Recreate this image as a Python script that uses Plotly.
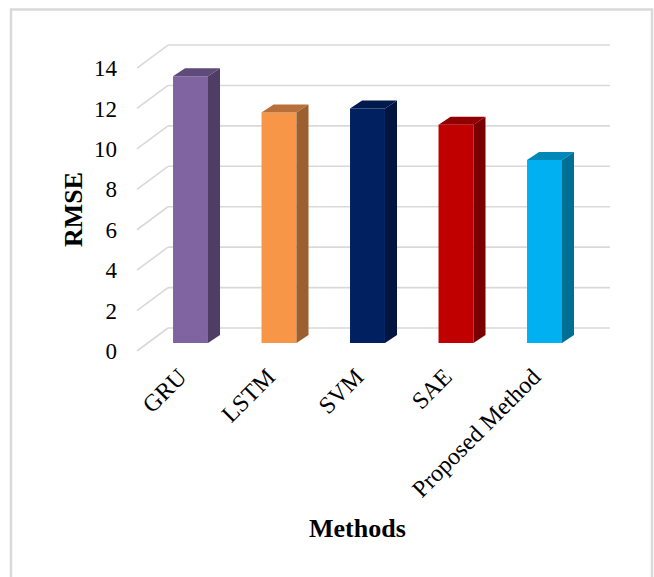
import plotly.graph_objects as go

# Data
methods = ["GRU", "LSTM", "SVM", "SAE", "Proposed Method"]
rmse = [13.2, 11.4, 11.6, 10.8, 9.05]
y_ticks = [0, 2, 4, 6, 8, 10, 12, 14]

front_colors = ["#8064A2", "#F79646", "#002060", "#C00000", "#00B0F0"]
top_colors = ["#5F4B7A", "#B8703A", "#001A4D", "#900000", "#0088B8"]
side_colors = ["#4F3D66", "#9C5F2F", "#00153F", "#7A0000", "#006F96"]

# Oblique 3-D projection parameters (in axis units)
BAR_W = 0.395          # width of bar front face (category units)
DEPTH_X = 0.136        # horizontal shift of bar depth
DEPTH_Y = 0.396        # vertical shift of bar depth
FLOOR_FRONT_X, FLOOR_FRONT_DY = -0.605, -0.396   # front edge of side wall
WALL_X, WALL_DY = -0.254, 0.742                  # back wall left edge / lift
WALL_RIGHT = 4.74

# Plot-area geometry in pixels
W, H = 654, 577
ML, MR, MT, MB = 120, 44, 30, 217
PX_PER_CAT = 88.5
PX_PER_UNIT = 20.21
x0_px = 190.5          # pixel centre of first category
y0_px = 343            # pixel of value 0 on bar front plane

x_range = [(ML - x0_px) / PX_PER_CAT, (W - MR - x0_px) / PX_PER_CAT]
y_range = [(y0_px - (H - MB)) / PX_PER_UNIT, (y0_px - MT) / PX_PER_UNIT]

xs = list(range(len(methods)))
fig = go.Figure()

# Back-wall and side-wall gridlines
grid = dict(color="#D9D9D9", width=1.6)
shapes = []
for v in y_ticks:
    shapes.append(dict(type="line", xref="x", yref="y", layer="below",
                       x0=FLOOR_FRONT_X, y0=v + FLOOR_FRONT_DY,
                       x1=WALL_X, y1=v + WALL_DY, line=grid))
    shapes.append(dict(type="line", xref="x", yref="y", layer="below",
                       x0=WALL_X, y0=v + WALL_DY,
                       x1=WALL_RIGHT, y1=v + WALL_DY, line=grid))

# Chart border
def px2paper_x(px):
    return (px - ML) / (W - ML - MR)

def px2paper_y(py):
    return ((H - MB) - py) / (H - MT - MB)

shapes.append(dict(type="rect", xref="paper", yref="paper", layer="below",
                   x0=px2paper_x(11), x1=px2paper_x(652),
                   y0=px2paper_y(600), y1=px2paper_y(9.5),
                   line=dict(color="#D9D9D9", width=2.5)))

# Bar front faces
fig.add_trace(go.Bar(x=xs, y=rmse, width=BAR_W, marker=dict(color=front_colors, line=dict(width=0)),
                     hoverinfo="skip", showlegend=False))

# Top and side faces
for i, v in enumerate(rmse):
    xl, xr = i - BAR_W / 2, i + BAR_W / 2
    fig.add_trace(go.Scatter(
        x=[xl, xr, xr + DEPTH_X, xl + DEPTH_X, xl],
        y=[v, v, v + DEPTH_Y, v + DEPTH_Y, v],
        mode="lines", fill="toself", fillcolor=top_colors[i],
        line=dict(width=0, color=top_colors[i]), hoverinfo="skip", showlegend=False))
    fig.add_trace(go.Scatter(
        x=[xr, xr, xr + DEPTH_X, xr + DEPTH_X, xr],
        y=[0, v, v + DEPTH_Y, DEPTH_Y, 0],
        mode="lines", fill="toself", fillcolor=side_colors[i],
        line=dict(width=0, color=side_colors[i]), hoverinfo="skip", showlegend=False))

font_family = "Liberation Serif, Times New Roman, serif"

fig.update_layout(
    width=W, height=H,
    margin=dict(l=ML, r=MR, t=MT, b=MB),
    paper_bgcolor="white", plot_bgcolor="white",
    shapes=shapes,
    font=dict(family=font_family, color="black"),
    xaxis=dict(range=x_range, tickmode="array", tickvals=xs, ticktext=methods,
               tickangle=-45, tickfont=dict(size=24, family=font_family, color="black"),
               showgrid=False, zeroline=False, showline=False, ticks="",
               ticklabelstandoff=-3, ticklabelshift=-11),
    yaxis=dict(range=y_range, tickmode="array", tickvals=y_ticks,
               ticktext=[str(t) for t in y_ticks],
               tickfont=dict(size=23, family=font_family, color="black"),
               showgrid=False, zeroline=False, showline=False, ticks="",
               ticklabelshift=8, ticklabelstandoff=2),
    annotations=[
        dict(text="<b>RMSE</b>", xref="paper", yref="paper",
             x=px2paper_x(73), y=px2paper_y(210), textangle=-90, showarrow=False,
             font=dict(size=26, family=font_family, color="black"),
             xanchor="center", yanchor="middle"),
        dict(text="<b>Methods</b>", xref="paper", yref="paper",
             x=px2paper_x(357), y=px2paper_y(528), showarrow=False,
             font=dict(size=26, family=font_family, color="black"),
             xanchor="center", yanchor="middle"),
    ],
)

fig.write_html("out.html")
